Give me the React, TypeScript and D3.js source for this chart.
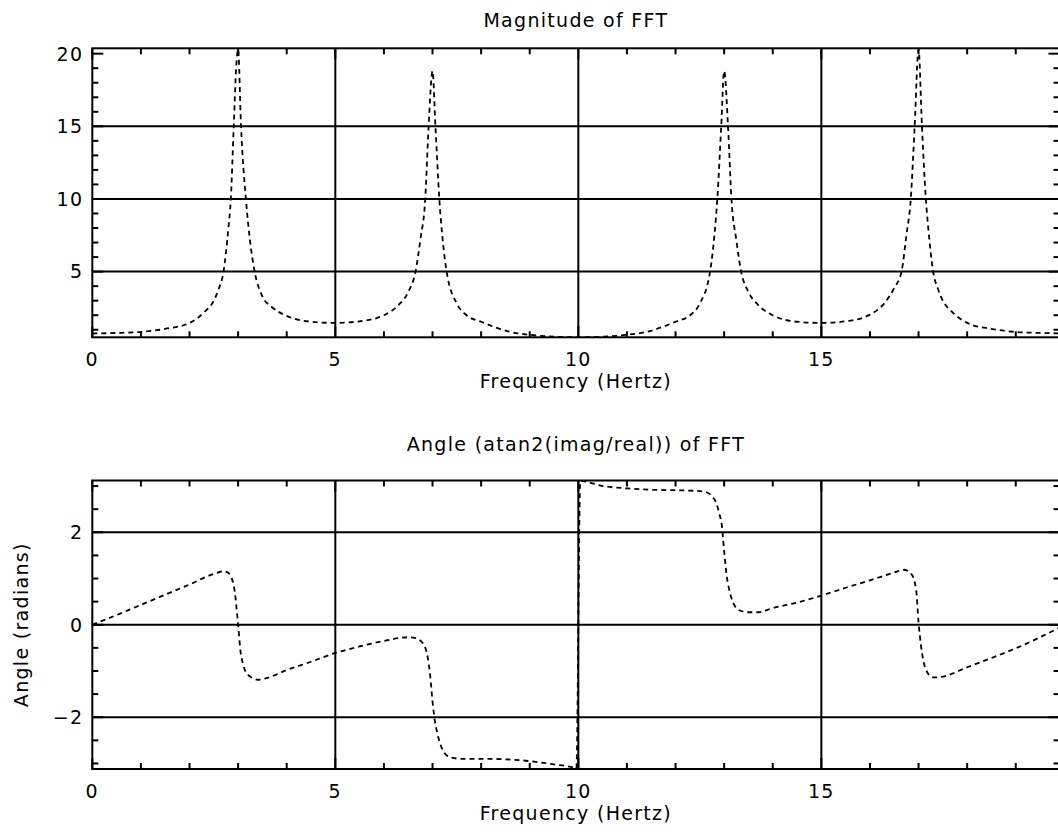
import React, { Component } from 'react';
import * as d3 from 'd3';

// magnitude of the FFT
const magFreq = [
  0, 0.5, 1, 1.5, 2, 2.3, 2.5, 2.6, 2.7, 2.8, 2.85, 2.91, 2.96, 3, 3.06, 3.16, 3.25, 3.34, 3.5, 3.7, 4, 4.5,
  5, 5.5, 6, 6.3, 6.5, 6.65, 6.75, 6.85, 6.92, 7, 7.06, 7.14, 7.2, 7.29, 7.5, 7.7, 8, 8.6, 9, 9.5,
  10, 10.5, 11, 11.4, 12, 12.3, 12.5, 12.71, 12.8, 12.86, 12.94, 13, 13.08, 13.15, 13.25, 13.35, 13.5, 13.7, 14, 14.5,
  15, 15.5, 16, 16.3, 16.5, 16.65, 16.75, 16.84, 16.92, 17, 17.07, 17.15, 17.2, 17.3, 17.4, 17.5, 17.7, 18, 18.5, 19, 19.5, 19.9,
];
const magValues = [
  0.74, 0.78, 0.85, 1.06, 1.47, 2.2, 3.0, 3.8, 5.0, 8.0, 10.0, 15.0, 19.0, 20.3, 15.0, 10.0, 7.0, 5.0, 3.3, 2.55, 1.95, 1.55,
  1.47, 1.58, 2.0, 2.7, 3.6, 5.0, 7.2, 10.0, 15.0, 18.8, 15.0, 10.0, 7.5, 5.0, 2.8, 2.0, 1.55, 0.85, 0.65, 0.52,
  0.48, 0.52, 0.65, 0.85, 1.55, 2.0, 2.8, 5.0, 7.5, 10.0, 15.0, 18.8, 15.0, 10.0, 7.2, 5.0, 3.6, 2.7, 2.0, 1.55,
  1.47, 1.58, 2.04, 2.84, 3.87, 5.0, 7.5, 10.0, 15.0, 20.3, 15.0, 10.0, 8.0, 5.0, 3.8, 3.0, 2.2, 1.47, 1.06, 0.85, 0.78, 0.75,
];

// phase angle of the FFT
const angleFreq = [
  0, 0.5, 1, 1.5, 2, 2.5, 2.7, 2.8, 2.87, 2.93, 3, 3.05, 3.1, 3.15, 3.25, 3.4, 3.6, 4, 4.5,
  5, 5.5, 6, 6.3, 6.5, 6.65, 6.8, 6.9, 6.95, 7, 7.05, 7.1, 7.15, 7.25, 7.35, 7.6, 8, 8.5, 9, 9.5, 9.9, 9.96,
  10.04, 10.5, 11, 11.5, 12, 12.5, 12.65, 12.75, 12.85, 12.9, 12.95, 13, 13.05, 13.1, 13.15, 13.3, 13.5, 13.7, 14, 14.5,
  15, 15.5, 16, 16.5, 16.7, 16.85, 16.95, 17, 17.05, 17.1, 17.15, 17.3, 17.5, 18, 18.5, 19, 19.5, 19.9,
];
const angleValues = [
  0.0, 0.21, 0.43, 0.65, 0.87, 1.1, 1.155, 1.12, 1.0, 0.72, 0.0, -0.58, -0.85, -1.01, -1.12, -1.19, -1.15, -0.98, -0.8,
  -0.61, -0.47, -0.35, -0.29, -0.27, -0.29, -0.4, -0.7, -1.08, -1.66, -2.09, -2.35, -2.55, -2.78, -2.86, -2.9, -2.9, -2.91, -2.95, -3.02, -3.09, -3.11,
  3.11, 3.0, 2.95, 2.92, 2.91, 2.89, 2.86, 2.78, 2.6, 2.4, 2.17, 1.59, 1.08, 0.78, 0.58, 0.32, 0.27, 0.27, 0.36, 0.48,
  0.63, 0.8, 0.96, 1.13, 1.19, 1.1, 0.76, 0.05, -0.45, -0.78, -0.97, -1.14, -1.12, -0.92, -0.72, -0.51, -0.27, -0.06,
];

// axis ticks and grid positions
const freqMajorTicks = [0, 5, 10, 15];
const freqGrid = [5, 10, 15];
const magMajorTicks = [5, 10, 15, 20];
const magGrid = [5, 10, 15];
const angleMajorTicks = [-2, 0, 2];
const angleGrid = [-2, 0, 2];

const FONT = '"DejaVu Sans", sans-serif';

class FftPlots extends Component {
  svgRef = React.createRef<SVGSVGElement>();

  componentDidMount() {
    this.draw();
  }

  componentDidUpdate() {
    this.draw();
  }

  drawPanel(svg: any, opt: any) {
    const left = 92.3;
    const right = 1059.5;
    const { top, bottom, yDomain, yMajor, yMinorStep, grid, freq, values, title, titleY, yLabel, id } = opt;

    const x = d3.scaleLinear().domain([0, 19.9]).range([left, right]);
    const y = d3.scaleLinear().domain(yDomain).range([bottom, top]);

    const g = svg.append('g');

    // minor tick positions (every 1 Hz on x, yMinorStep on y)
    const xMinor = d3.range(0, 20, 1).filter((v) => !freqMajorTicks.includes(v));
    const yMinor = d3
      .range(Math.ceil(yDomain[0] / yMinorStep) * yMinorStep, yDomain[1], yMinorStep)
      .map((v) => +v.toFixed(3))
      .filter((v) => !yMajor.includes(v));

    const line = (sel: any) => sel.attr('stroke', '#000').attr('stroke-width', 2).attr('fill', 'none');

    // grid lines
    g.selectAll('.vg')
      .data(freqGrid)
      .enter()
      .append('line')
      .attr('x1', (d: number) => x(d))
      .attr('x2', (d: number) => x(d))
      .attr('y1', top)
      .attr('y2', bottom)
      .call(line);
    g.selectAll('.hg')
      .data(grid)
      .enter()
      .append('line')
      .attr('x1', left)
      .attr('x2', right)
      .attr('y1', (d: number) => y(d))
      .attr('y2', (d: number) => y(d))
      .call(line);

    // ticks on all four sides
    const tick = (data: number[], len: number) => {
      data.forEach((v) => {
        g.append('line').attr('x1', x(v)).attr('x2', x(v)).attr('y1', bottom).attr('y2', bottom - len).call(line);
        g.append('line').attr('x1', x(v)).attr('x2', x(v)).attr('y1', top).attr('y2', top + len).call(line);
      });
    };
    const ytick = (data: number[], len: number) => {
      data.forEach((v) => {
        g.append('line').attr('x1', left).attr('x2', left + len).attr('y1', y(v)).attr('y2', y(v)).call(line);
        g.append('line').attr('x1', right).attr('x2', right - len).attr('y1', y(v)).attr('y2', y(v)).call(line);
      });
    };
    tick(xMinor, 6);
    tick(freqMajorTicks, 11);
    ytick(yMinor, 6);
    ytick(yMajor, 11);

    // frame
    g.append('rect')
      .attr('x', left)
      .attr('y', top)
      .attr('width', right - left)
      .attr('height', bottom - top)
      .call(line);

    // clip for the curve
    svg
      .append('clipPath')
      .attr('id', id)
      .append('rect')
      .attr('x', left)
      .attr('y', top)
      .attr('width', right - left)
      .attr('height', bottom - top);

    const pts = freq.map((f: number, i: number) => [f, values[i]]);
    const path = d3
      .line()
      .x((d: any) => x(d[0]))
      .y((d: any) => y(d[1]))
      .curve(d3.curveMonotoneX);

    g.append('path')
      .attr('d', path(pts))
      .attr('clip-path', `url(#${id})`)
      .attr('fill', 'none')
      .attr('stroke', '#000')
      .attr('stroke-width', 1.8)
      .attr('stroke-dasharray', '5,4');

    const text = (sel: any) =>
      sel.attr('font-family', FONT).attr('font-size', 19).attr('letter-spacing', 1.3).attr('fill', '#000');

    // x tick labels + axis title
    const fmt = d3.format('d');
    g.selectAll('.xl')
      .data(freqMajorTicks)
      .enter()
      .append('text')
      .attr('x', (d: number) => x(d))
      .attr('y', bottom + 28.7)
      .attr('text-anchor', 'middle')
      .text((d: number) => fmt(d))
      .call(text);
    g.append('text')
      .attr('x', (left + right) / 2)
      .attr('y', bottom + 50.5)
      .attr('text-anchor', 'middle')
      .text('Frequency (Hertz)')
      .call(text);

    // y tick labels
    g.selectAll('.yl')
      .data(yMajor)
      .enter()
      .append('text')
      .attr('x', left - 9)
      .attr('y', (d: number) => y(d))
      .attr('dy', '0.36em')
      .attr('text-anchor', 'end')
      .text((d: number) => fmt(d))
      .call(text);

    g.append('text')
      .attr('x', (left + right) / 2)
      .attr('y', titleY)
      .attr('text-anchor', 'middle')
      .text(title)
      .call(text);

    if (yLabel) {
      g.append('text')
        .attr('transform', `translate(28,${(top + bottom) / 2}) rotate(-90)`)
        .attr('text-anchor', 'middle')
        .text(yLabel)
        .call(text);
    }
  }

  draw() {
    const svg = d3.select(this.svgRef.current);
    svg.selectAll('*').remove();

    this.drawPanel(svg, {
      id: 'clipMag',
      top: 48.3,
      bottom: 337.3,
      yDomain: [0.48, 20.37],
      yMajor: magMajorTicks,
      yMinorStep: 1,
      grid: magGrid,
      freq: magFreq,
      values: magValues,
      title: 'Magnitude of FFT',
      titleY: 26.7,
    });

    this.drawPanel(svg, {
      id: 'clipAngle',
      top: 480.5,
      bottom: 769,
      yDomain: [-3.12, 3.12],
      yMajor: angleMajorTicks,
      yMinorStep: 0.5,
      grid: angleGrid,
      freq: angleFreq,
      values: angleValues,
      title: 'Angle (atan2(imag/real)) of FFT',
      titleY: 451,
      yLabel: 'Angle (radians)',
    });
  }

  render() {
    return (
      <svg
        ref={this.svgRef}
        width={1058}
        height={835}
        style={{ position: 'absolute', left: 0, top: 0, background: '#fff' }}
      />
    );
  }
}

export default function App() {
  return <FftPlots />;
}
